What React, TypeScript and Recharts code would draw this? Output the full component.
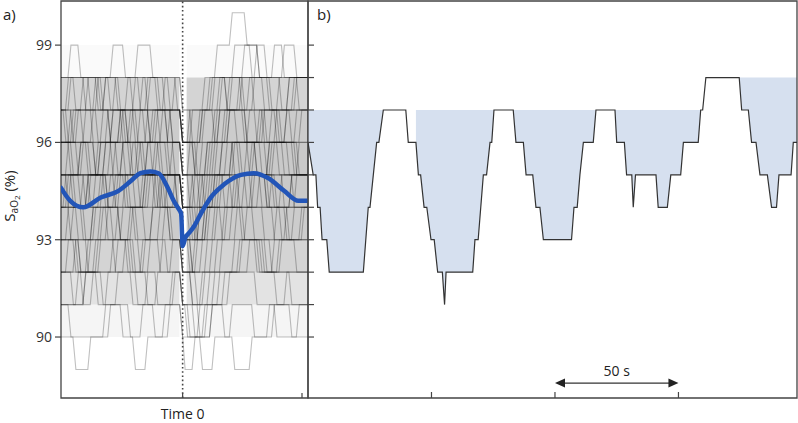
import React from 'react';
import {
  ComposedChart,
  Line,
  Area,
  XAxis,
  YAxis,
  ReferenceLine,
  ReferenceArea,
} from 'recharts';

// shared SaO2 range (%) for both panels
const satDomain = [88.12, 100.36];
const leftSatTicks = [90, 93, 96, 99];
const rightSatTicks = [90, 91, 92, 93, 94, 95, 96, 97, 98, 99];
const leftTimeDomain = [-49, 50.5];
const leftTimeTicks = [0, 50];
const rightTimeDomain = [0, 198];
const rightTimeTicks = [50, 100, 150];

// panel a: mean SaO2 around time 0
const meanTimes = [-49, -45.3, -40, -33, -26, -21, -17, -13, -9.7, -6, -3.6, -1.8, -0.6, 0, 1, 2.5, 4.5, 7.3, 11.3, 16.6, 23.5, 28.7, 34.4, 41, 46.6, 50.5];
const meanSat = [94.6, 94.2, 94.0, 94.3, 94.5, 94.8, 95.05, 95.1, 95.05, 94.6, 94.2, 93.97, 93.8, 92.8, 93.05, 93.2, 93.4, 93.8, 94.3, 94.7, 95.0, 95.05, 94.9, 94.5, 94.2, 94.2];

// panel a: how densely the overlaid traces cover each 1 % band (lower edge, shade)
const bandLows = [89, 90, 91, 92, 93, 94, 95, 96, 97, 98];
const bandShade = [0.0, 0.04, 0.11, 0.17, 0.2, 0.21, 0.21, 0.2, 0.17, 0.02];
const bandSpans = [[-49, -1.3], [1.6, 50.5]];

// panel a: individual traces, [time, level] at each level change
const grayTraces = [
  [[-49, 98], [-45, 99], [-41, 98], [-28, 99], [-23, 98], [-9, 97], [0, 96], [7, 97], [15, 98], [21, 99], [28, 98], [41, 99], [46, 98], [50.5, 98]],
  [[-49, 98], [-37, 97], [-31, 98], [-18, 99], [-12, 98], [0, 97], [11, 98], [25, 99], [31, 98], [50.5, 98]],
  [[-49, 97], [-46, 98], [-33, 97], [-27, 98], [-20, 97], [-14, 98], [-5, 97], [0, 96], [4, 97], [9, 98], [14, 99], [20, 100], [26, 99], [31, 98], [36, 97], [43, 98], [50.5, 98]],
  [[-49, 97], [-44, 96], [-39, 97], [-31, 98], [-25, 97], [-16, 98], [-10, 97], [-4, 96], [0, 95], [6, 96], [13, 97], [20, 98], [33, 97], [39, 98], [47, 97], [50.5, 97]],
  [[-49, 96], [-42, 97], [-34, 96], [-28, 97], [-19, 98], [-14, 97], [0, 96], [9, 97], [16, 98], [24, 97], [29, 98], [37, 99], [41, 98], [50.5, 98]],
  [[-49, 97], [-38, 98], [-32, 97], [-24, 96], [-21, 97], [-7, 98], [-2, 97], [0, 96], [5, 95], [10, 96], [15, 97], [27, 98], [35, 97], [44, 96], [50.5, 96]],
  [[-49, 98], [-43, 97], [-35, 98], [-26, 97], [-15, 96], [-11, 97], [0, 96], [3, 97], [12, 98], [18, 97], [26, 96], [32, 97], [45, 98], [50.5, 98]],
  [[-49, 96], [-45, 95], [-40, 96], [-30, 97], [-22, 96], [-12, 97], [-6, 96], [0, 95], [8, 96], [14, 97], [22, 96], [30, 95], [36, 96], [48, 97], [50.5, 97]],
  [[-49, 95], [-41, 96], [-36, 97], [-29, 96], [-23, 95], [-17, 96], [-9, 95], [0, 94], [5, 95], [11, 96], [19, 97], [26, 96], [38, 97], [50.5, 97]],
  [[-49, 96], [-38, 95], [-33, 96], [-20, 97], [-13, 96], [-3, 95], [0, 94], [4, 93], [9, 94], [14, 95], [20, 96], [31, 97], [40, 96], [46, 95], [50.5, 95]],
  [[-49, 97], [-46, 96], [-37, 95], [-31, 96], [-25, 97], [-18, 96], [-8, 97], [0, 96], [6, 95], [12, 96], [17, 97], [34, 96], [42, 97], [50.5, 97]],
  [[-49, 95], [-43, 94], [-38, 95], [-27, 96], [-21, 95], [-14, 96], [-5, 95], [0, 94], [7, 95], [13, 96], [24, 95], [29, 96], [41, 95], [50.5, 95]],
  [[-49, 94], [-45, 95], [-34, 96], [-28, 95], [-19, 94], [-15, 95], [-10, 96], [0, 95], [3, 94], [10, 95], [18, 96], [27, 97], [33, 96], [39, 95], [50.5, 95]],
  [[-49, 95], [-39, 94], [-35, 95], [-24, 96], [-16, 95], [-7, 94], [0, 93], [6, 94], [15, 95], [21, 96], [30, 95], [37, 94], [44, 95], [50.5, 95]],
  [[-49, 96], [-44, 95], [-30, 94], [-26, 95], [-18, 96], [-12, 95], [0, 94], [8, 95], [16, 96], [23, 95], [35, 96], [47, 95], [50.5, 95]],
  [[-49, 94], [-42, 93], [-36, 94], [-29, 95], [-22, 94], [-13, 95], [-6, 94], [0, 93], [4, 92], [10, 93], [17, 94], [25, 95], [32, 94], [43, 93], [48, 94], [50.5, 94]],
  [[-49, 95], [-46, 94], [-40, 93], [-33, 94], [-23, 95], [-17, 94], [-9, 95], [-2, 94], [0, 93], [9, 94], [19, 95], [28, 94], [36, 95], [45, 94], [50.5, 94]],
  [[-49, 94], [-37, 95], [-31, 94], [-25, 93], [-20, 94], [-11, 95], [0, 94], [5, 93], [11, 94], [22, 95], [34, 94], [40, 93], [50.5, 93]],
  [[-49, 93], [-44, 94], [-32, 95], [-27, 94], [-14, 95], [-8, 94], [0, 93], [7, 94], [13, 95], [20, 94], [31, 95], [38, 94], [50.5, 94]],
  [[-49, 93], [-41, 92], [-35, 93], [-26, 94], [-19, 93], [-12, 94], [-4, 93], [0, 92], [6, 93], [14, 94], [24, 93], [33, 92], [39, 93], [50.5, 93]],
  [[-49, 92], [-43, 93], [-36, 94], [-30, 93], [-21, 92], [-16, 93], [-7, 94], [0, 93], [4, 92], [12, 93], [18, 94], [29, 93], [42, 94], [50.5, 94]],
  [[-49, 93], [-38, 92], [-33, 93], [-24, 94], [-15, 93], [-9, 92], [0, 91], [8, 92], [16, 93], [26, 94], [37, 93], [46, 92], [50.5, 92]],
  [[-49, 92], [-44, 91], [-39, 92], [-28, 93], [-22, 92], [-13, 93], [-6, 92], [0, 91], [2, 90], [7, 91], [13, 92], [23, 93], [31, 92], [44, 91], [50.5, 91]],
  [[-49, 91], [-42, 92], [-34, 93], [-27, 92], [-18, 91], [-14, 92], [-8, 93], [0, 92], [6, 91], [11, 92], [21, 93], [34, 92], [40, 93], [50.5, 93]],
  [[-49, 92], [-40, 91], [-36, 92], [-23, 93], [-17, 92], [-10, 91], [-3, 92], [0, 91], [5, 90], [9, 91], [15, 92], [27, 93], [36, 92], [50.5, 92]],
  [[-49, 91], [-45, 90], [-31, 91], [-26, 92], [-20, 91], [-11, 90], [-5, 91], [0, 90], [1, 89], [5, 90], [12, 91], [19, 92], [30, 91], [38, 90], [47, 91], [50.5, 91]],
  [[-49, 90], [-43, 89], [-37, 90], [-29, 91], [-21, 90], [-19, 89], [-14, 90], [-7, 91], [0, 90], [10, 91], [17, 90], [21, 89], [28, 90], [35, 91], [50.5, 91]],
  [[-49, 91], [-39, 92], [-32, 91], [-24, 90], [-16, 91], [-4, 92], [0, 91], [3, 90], [8, 89], [13, 90], [20, 91], [29, 90], [37, 91], [44, 90], [50.5, 90]],
  [[-49, 97], [-47, 96], [-43, 97], [-36, 96], [-32, 97], [-22, 98], [-17, 97], [-6, 96], [0, 95], [3, 96], [8, 97], [13, 96], [18, 97], [23, 98], [29, 97], [38, 96], [42, 97], [50.5, 97]],
  [[-49, 96], [-44, 97], [-40, 96], [-35, 95], [-29, 96], [-25, 97], [-13, 96], [-8, 95], [-4, 96], [0, 95], [7, 94], [11, 95], [16, 96], [21, 95], [26, 96], [33, 97], [39, 96], [46, 97], [50.5, 97]],
  [[-49, 95], [-46, 96], [-42, 95], [-37, 94], [-33, 95], [-24, 96], [-20, 95], [-11, 96], [-6, 95], [0, 94], [4, 95], [9, 94], [13, 95], [20, 96], [27, 95], [34, 94], [40, 95], [47, 96], [50.5, 96]],
  [[-49, 94], [-47, 95], [-41, 94], [-38, 95], [-31, 96], [-26, 95], [-21, 94], [-15, 95], [-9, 94], [-3, 95], [0, 94], [6, 93], [10, 94], [16, 95], [23, 94], [28, 95], [35, 96], [43, 95], [50.5, 95]],
  [[-49, 95], [-44, 94], [-40, 95], [-33, 96], [-28, 97], [-22, 96], [-18, 95], [-14, 96], [-10, 97], [-4, 96], [0, 95], [5, 94], [9, 95], [14, 96], [19, 97], [25, 96], [32, 95], [37, 96], [45, 95], [50.5, 95]],
  [[-49, 93], [-46, 94], [-39, 93], [-35, 94], [-27, 95], [-23, 94], [-18, 93], [-12, 94], [-8, 95], [-2, 94], [0, 93], [3, 92], [8, 93], [13, 94], [21, 95], [26, 94], [33, 93], [38, 94], [44, 95], [50.5, 95]],
  [[-49, 94], [-45, 93], [-42, 92], [-37, 93], [-30, 94], [-25, 93], [-21, 94], [-16, 95], [-10, 94], [-5, 93], [0, 92], [5, 93], [10, 94], [16, 93], [22, 94], [29, 95], [35, 94], [42, 93], [49, 94], [50.5, 94]],
  [[-49, 93], [-43, 92], [-38, 93], [-32, 94], [-28, 93], [-19, 92], [-15, 93], [-9, 94], [-5, 93], [0, 92], [4, 91], [9, 92], [14, 93], [20, 94], [25, 93], [32, 92], [37, 93], [45, 94], [50.5, 94]],
  [[-49, 92], [-46, 93], [-41, 92], [-34, 91], [-30, 92], [-26, 93], [-20, 92], [-14, 91], [-10, 92], [-4, 93], [0, 92], [4, 91], [7, 90], [12, 91], [17, 92], [24, 93], [30, 92], [38, 91], [42, 92], [50.5, 92]],
  [[-49, 96], [-45, 97], [-40, 98], [-34, 97], [-29, 96], [-24, 97], [-19, 96], [-14, 97], [-9, 96], [-5, 97], [0, 96], [5, 95], [10, 96], [15, 97], [19, 98], [25, 97], [30, 96], [36, 97], [43, 98], [50.5, 98]],
  [[-49, 97], [-45, 98], [-39, 97], [-34, 98], [-29, 97], [-23, 96], [-17, 97], [-13, 98], [-7, 97], [-3, 98], [0, 97], [4, 96], [8, 97], [13, 98], [18, 97], [24, 98], [30, 99], [34, 98], [40, 97], [46, 98], [50.5, 98]],
  [[-49, 94], [-46, 95], [-41, 96], [-35, 95], [-30, 94], [-25, 95], [-20, 96], [-15, 95], [-11, 94], [-6, 95], [0, 94], [3, 93], [7, 94], [12, 95], [17, 94], [23, 95], [28, 96], [34, 95], [41, 94], [46, 95], [50.5, 95]],
];

// panel b: single recording, [time s, SaO2 %] at each vertex
const rightTrace = [
  [0, 96], [2.1, 95], [3.2, 95], [3.9, 94], [4.9, 94], [5.7, 93], [7.6, 93], [8.6, 92], [22.4, 92], [24.4, 94],
  [25.1, 94], [27.8, 96], [28.7, 96], [30.5, 97], [39.6, 97], [40.6, 96], [43.7, 96], [44.7, 95], [45.6, 95], [47, 94],
  [48.1, 94], [49.8, 93], [51.1, 93], [52.5, 92], [54.4, 92], [55.3, 91], [55.9, 92], [66.7, 92], [67.6, 93], [68.9, 93],
  [71, 95], [72.3, 95], [73.7, 96], [74.4, 96], [75.3, 97], [83.1, 97], [84.2, 96], [87.2, 96], [88.3, 95], [91, 95],
  [92.3, 94], [93.9, 94], [95.3, 93], [106.7, 93], [107.7, 94], [109, 94], [110.1, 95], [111.5, 96], [115.5, 96], [116.6, 97],
  [124.3, 97], [125, 96], [128.1, 96], [129, 95], [131.1, 95], [131.7, 94], [132.6, 95], [140.9, 95], [141.8, 94], [145.5, 94],
  [146.9, 95], [150.9, 95], [152, 96], [158, 96], [159, 97], [159.8, 97], [161.1, 98], [174.6, 98], [175.6, 97], [178.3, 97],
  [179.6, 96], [181.4, 96], [183, 95], [186, 95], [187.7, 94], [189.7, 94], [190.7, 95], [195.6, 95], [196.5, 96], [198, 96],
];

// desaturation events: [start s, end s, reference level %]
const desatEvents = [
  [0, 30.5, 97],
  [43.7, 75.3, 97],
  [83.1, 116.6, 97],
  [124.3, 159, 97],
  [174.6, 198, 98],
];

const scaleBar = { from: 100, to: 150, level: 88.58, label: '50 s' };

const FRAME = '#444';
const FONT = '"Open Sans", "Noto Sans", sans-serif';

// step curve with short slanted transitions (like the sampled oximeter traces)
const RAMP = 3;
const rampStep = (context: any) => {
  let px = 0;
  let py = 0;
  let n = 0;
  return {
    areaStart() {},
    areaEnd() {},
    lineStart() {
      n = 0;
    },
    lineEnd() {},
    point(x: number, y: number) {
      if (n === 0) context.moveTo(x, y);
      else {
        context.lineTo(Math.max(px, x - RAMP), py);
        context.lineTo(x, y);
      }
      px = x;
      py = y;
      n++;
    },
  };
};

const TimeTick = (props: any) => {
  const { x, y, payload } = props;
  return (
    <g>
      <line x1={x} x2={x} y1={y} y2={y - 5} stroke={FRAME} strokeWidth={1.2} />
      {payload.value === 0 && (
        <text x={x} y={y + 21} textAnchor="middle" fontSize={14} fill="#222">
          Time 0
        </text>
      )}
    </g>
  );
};

// inward tick marks for panel b (no labels)
const InTickX = (props: any) => (
  <line x1={props.x} x2={props.x} y1={props.y} y2={props.y - 6} stroke={FRAME} strokeWidth={1.2} />
);
const InTickY = (props: any) => (
  <line x1={props.x} x2={props.x + 6} y1={props.y} y2={props.y} stroke={FRAME} strokeWidth={1.2} />
);

function PanelA() {
  const meanData = meanTimes.map((t, i) => ({ t, sat: meanSat[i] }));
  return (
    <ComposedChart width={310} height={423} margin={{ top: 1, right: 2, bottom: 0, left: 0 }}>
      <XAxis
        type="number"
        dataKey="t"
        domain={leftTimeDomain}
        ticks={leftTimeTicks}
        allowDataOverflow
        axisLine={false}
        tickLine={false}
        tickSize={0}
        tickMargin={0}
        height={25}
        tick={(p: any) => <TimeTick {...p} />}
      />
      <YAxis
        type="number"
        domain={satDomain}
        ticks={leftSatTicks}
        allowDataOverflow
        width={61}
        axisLine={false}
        tickSize={6}
        tickMargin={3}
        tickLine={{ stroke: FRAME, strokeWidth: 1.2 }}
        tick={{ fill: '#333', fontSize: 14 }}
      />
      {bandSpans.map(([a, b]) =>
        bandLows.map((lo, i) => (
          <ReferenceArea
            key={`${a}-${lo}`}
            x1={a}
            x2={b}
            y1={lo}
            y2={lo + 1}
            fill="#000"
            fillOpacity={bandShade[i]}
            stroke="none"
          />
        ))
      )}
      {grayTraces.map((tr, i) => (
        <Line
          key={i}
          data={tr.map(([t, sat]) => ({ t, sat }))}
          dataKey="sat"
          type={rampStep as any}
          stroke="#000"
          strokeOpacity={0.25}
          strokeWidth={1.1}
          dot={false}
          activeDot={false}
          isAnimationActive={false}
        />
      ))}
      <ReferenceLine x={0} stroke="#444" strokeWidth={1.6} strokeDasharray="1.6 2.6" />
      <Line
        data={meanData}
        dataKey="sat"
        type="monotone"
        stroke="#2255b8"
        strokeWidth={4.5}
        strokeLinecap="round"
        dot={false}
        activeDot={false}
        isAnimationActive={false}
      />
      <ReferenceArea
        x1={leftTimeDomain[0]}
        x2={leftTimeDomain[1]}
        y1={satDomain[0]}
        y2={satDomain[1]}
        fill="none"
        stroke={FRAME}
        strokeWidth={1.3}
        ifOverflow="visible"
      />
    </ComposedChart>
  );
}

function PanelB() {
  const rows = rightTrace.map(([t, sat]) => {
    const ev = desatEvents.find(([a, b]) => t >= a && t <= b);
    return { t, sat, band: ev ? [sat, ev[2]] : null };
  });
  return (
    <ComposedChart width={498} height={423} data={rows} margin={{ top: 1, right: 1, bottom: 25, left: 8 }}>
      <XAxis
        type="number"
        dataKey="t"
        domain={rightTimeDomain}
        ticks={rightTimeTicks}
        allowDataOverflow
        mirror
        tickSize={0}
        tickMargin={0}
        axisLine={false}
        tickLine={false}
        tick={(p: any) => <InTickX {...p} />}
      />
      <YAxis
        type="number"
        domain={satDomain}
        ticks={rightSatTicks}
        allowDataOverflow
        mirror
        tickSize={0}
        tickMargin={0}
        axisLine={false}
        tickLine={false}
        tick={(p: any) => <InTickY {...p} />}
      />
      <Area dataKey="band" type="linear" fill="#d6e0ef" fillOpacity={1} stroke="none" isAnimationActive={false} />
      <Line dataKey="sat" type="linear" stroke="#333" strokeWidth={1.2} dot={false} activeDot={false} isAnimationActive={false} />
      <ReferenceLine
        segment={[
          { x: scaleBar.from, y: scaleBar.level },
          { x: scaleBar.to, y: scaleBar.level },
        ]}
        shape={(p: any) => {
          const { x1, y1, x2 } = p;
          return (
            <g>
              <line x1={x1 + 6} x2={x2 - 6} y1={y1} y2={y1} stroke="#333" strokeWidth={1.3} />
              <path d={`M${x1},${y1} L${x1 + 10},${y1 - 4.5} L${x1 + 10},${y1 + 4.5} Z`} fill="#222" />
              <path d={`M${x2},${y1} L${x2 - 10},${y1 - 4.5} L${x2 - 10},${y1 + 4.5} Z`} fill="#222" />
              <text x={(x1 + x2) / 2} y={y1 - 7} textAnchor="middle" fontSize={14} fill="#222">
                {scaleBar.label}
              </text>
            </g>
          );
        }}
      />
      <ReferenceArea
        x1={rightTimeDomain[0]}
        x2={rightTimeDomain[1]}
        y1={satDomain[0]}
        y2={satDomain[1]}
        fill="none"
        stroke={FRAME}
        strokeWidth={1.3}
        ifOverflow="visible"
      />
    </ComposedChart>
  );
}

export default function App() {
  return (
    <div style={{ position: 'absolute', left: 0, top: 0, width: 798, height: 423, background: '#fff', fontFamily: FONT }}>
      <div style={{ position: 'absolute', left: 0, top: 0 }}>
        <PanelA />
      </div>
      <div style={{ position: 'absolute', left: 300, top: 0 }}>
        <PanelB />
      </div>
      <svg width={798} height={423} style={{ position: 'absolute', left: 0, top: 0, pointerEvents: 'none' }}>
        <text x={3} y={20} fontSize={15} fill="#222">a)</text>
        <text x={317} y={20} fontSize={15} fill="#222">b)</text>
        <text transform="translate(14.5,196) rotate(-90)" textAnchor="middle" fontSize={15} fill="#222">
          S
          <tspan dy={3} fontSize={10}>aO</tspan>
          <tspan dy={2} fontSize={8}>2</tspan>
          <tspan dy={-5} fontSize={15}> (%)</tspan>
        </text>
      </svg>
    </div>
  );
}
